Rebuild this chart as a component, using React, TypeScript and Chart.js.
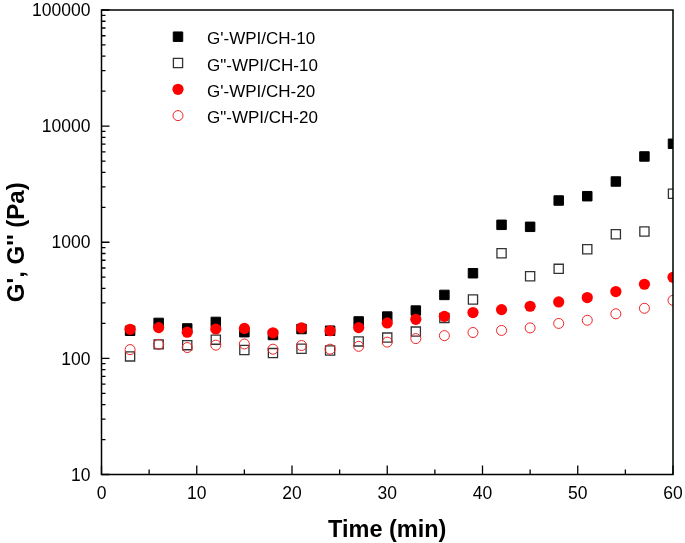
import React, { useEffect, useRef } from 'react';
import { Chart, registerables } from 'chart.js';

Chart.register(...registerables);

const times = [3, 6, 9, 12, 15, 18, 21, 24, 27, 30, 33, 36, 39, 42, 45, 48, 51, 54, 57, 60];
const gp10 = [173, 202, 181, 206, 168, 159, 179, 173, 208, 229, 258, 352, 541, 1413, 1358, 2288, 2492, 3335, 5480, 7050];
const gpp10 = [104, 132, 130, 145, 118, 111, 121, 117, 140, 151, 170, 223, 321, 804, 509, 590, 871, 1173, 1236, 2613];
const gp20 = [178, 184, 168, 179, 181, 166, 183, 173, 184, 202, 217, 230, 248, 263, 281, 306, 334, 376, 435, 499];
const gpp20 = [119, 132, 124, 130, 133, 120, 129, 120, 127, 138, 148, 157, 167, 174, 183, 200, 213, 242, 270, 316];
const xTicks = [0, 10, 20, 30, 40, 50, 60];
const xMinorTicks = [5, 15, 25, 35, 45, 55];
const yTicks = [10, 100, 1000, 10000, 100000];
const seriesNames = ["G'-WPI/CH-10", 'G"-WPI/CH-10', "G'-WPI/CH-20", 'G"-WPI/CH-20'];
const xTitle = 'Time (min)';
const yTitle = "G', G'' (Pa)";

const FONT = "'Liberation Sans', Arial, sans-serif";

const styles = [
  { shape: 'rect', radius: 6.7, fill: '#000000', stroke: '#000000', lw: 1 },
  { shape: 'rect', radius: 6.5, fill: 'rgba(255,255,255,0)', stroke: '#333333', lw: 1.3 },
  { shape: 'circle', radius: 5.6, fill: '#ff0000', stroke: '#ff0000', lw: 0 },
  { shape: 'circle', radius: 5, fill: 'rgba(255,255,255,0)', stroke: '#ee2222', lw: 1 },
];

const framePlugin = {
  id: 'frameTicks',
  afterDraw(chart: any) {
    const ctx = chart.ctx;
    const { left, right, top, bottom } = chart.chartArea;
    const xs = chart.scales.x;
    const ys = chart.scales.y;
    ctx.save();
    ctx.strokeStyle = '#000';
    ctx.lineWidth = 1.5;
    ctx.beginPath();
    ctx.rect(left, top, right - left, bottom - top);
    ctx.stroke();
    ctx.lineWidth = 1.3;
    ctx.beginPath();
    xTicks.forEach((v) => {
      const px = xs.getPixelForValue(v);
      ctx.moveTo(px, bottom);
      ctx.lineTo(px, bottom - 9);
    });
    xMinorTicks.forEach((v) => {
      const px = xs.getPixelForValue(v);
      ctx.moveTo(px, bottom);
      ctx.lineTo(px, bottom - 5);
    });
    for (let d = 0; d < yTicks.length; d++) {
      const base = yTicks[d];
      const py = ys.getPixelForValue(base);
      ctx.moveTo(left, py);
      ctx.lineTo(left + 8, py);
      if (d < yTicks.length - 1) {
        for (let m = 2; m <= 9; m++) {
          const pm = ys.getPixelForValue(base * m);
          ctx.moveTo(left, pm);
          ctx.lineTo(left + 4, pm);
        }
      }
    }
    ctx.stroke();

    // tick labels
    ctx.fillStyle = '#000';
    ctx.font = `17.5px ${FONT}`;
    ctx.textBaseline = 'alphabetic';
    ctx.textAlign = 'center';
    xTicks.forEach((v) => {
      ctx.fillText(String(v), xs.getPixelForValue(v), bottom + 24.5);
    });
    ctx.textAlign = 'right';
    yTicks.forEach((v) => {
      ctx.fillText(String(v), left - 11, ys.getPixelForValue(v) + 6.2);
    });

    // axis titles
    ctx.font = `bold 23.5px ${FONT}`;
    ctx.textAlign = 'center';
    ctx.fillText(xTitle, (left + right) / 2, 537);
    ctx.save();
    ctx.translate(23.5, (top + bottom) / 2);
    ctx.rotate(-Math.PI / 2);
    ctx.font = `bold 24px ${FONT}`;
    ctx.fillText(yTitle, 0, 0);
    ctx.restore();

    // legend
    ctx.font = `17px ${FONT}`;
    ctx.textBaseline = 'middle';
    ctx.textAlign = 'left';
    seriesNames.forEach((name, i) => {
      const st = styles[i];
      const cx = left + 76.5;
      const cy = top + 26.7 + i * 26.3;
      ctx.beginPath();
      if (st.shape === 'rect') {
        const h = st.radius * Math.SQRT1_2;
        ctx.rect(cx - h, cy - h, 2 * h, 2 * h);
      } else {
        ctx.arc(cx, cy, st.radius, 0, Math.PI * 2);
      }
      ctx.fillStyle = st.fill;
      ctx.fill();
      if (st.lw > 0) {
        ctx.lineWidth = st.lw;
        ctx.strokeStyle = st.stroke;
        ctx.stroke();
      }
      ctx.fillStyle = '#000';
      ctx.fillText(name, left + 105.5, cy + 3);
    });
    ctx.restore();
  },
};

export default function App() {
  const ref = useRef<HTMLCanvasElement>(null);
  useEffect(() => {
    if (!ref.current) return;
    const series = [gp10, gpp10, gp20, gpp20];
    const chart = new Chart(ref.current, {
      type: 'scatter',
      data: {
        datasets: series.map((vals, i) => ({
          label: seriesNames[i],
          data: times.map((t, j) => ({ x: t, y: vals[j] })),
          pointStyle: styles[i].shape as any,
          pointRadius: styles[i].radius,
          pointBackgroundColor: styles[i].fill,
          pointBorderColor: styles[i].stroke,
          pointBorderWidth: styles[i].lw,
          showLine: false,
          clip: 0,
          order: 4 - i,
        })),
      },
      options: {
        animation: false,
        responsive: true,
        maintainAspectRatio: false,
        layout: { padding: { top: 10, right: 12, left: 101.5, bottom: 68.5 } },
        plugins: { legend: { display: false }, tooltip: { enabled: false } },
        scales: {
          x: {
            type: 'linear',
            display: false,
            min: 0,
            max: 60,
          },
          y: {
            type: 'logarithmic',
            display: false,
            min: 10,
            max: 100000,
          },
        },
      },
      plugins: [framePlugin],
    });
    return () => chart.destroy();
  }, []);
  return (
    <div style={{ position: 'absolute', left: 0, top: 0, width: 685, height: 543, background: '#fff' }}>
      <canvas ref={ref} />
    </div>
  );
}
